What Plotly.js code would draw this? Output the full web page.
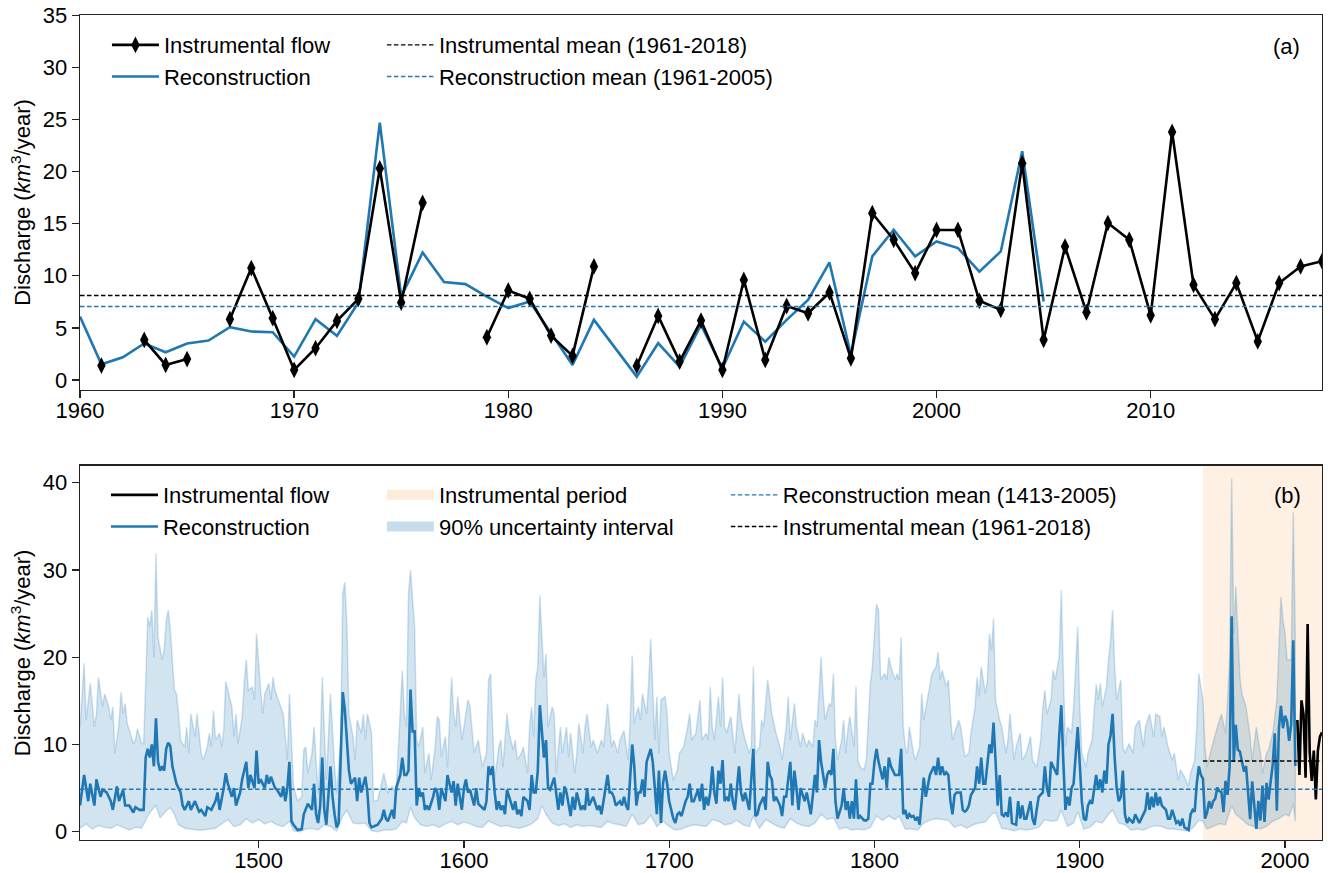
<!DOCTYPE html>
<html>
<head>
<meta charset="utf-8">
<script src="https://cdn.plot.ly/plotly-3.0.1.min.js"></script>
<style>html,body{margin:0;padding:0;background:#fff;}#chart{width:1328px;height:873px;}</style>
</head>
<body>
<div id="chart"></div>
<script>
// ---------- Panel (a): annual data 1960-2018 ----------
const topYears = [1960,1961,1962,1963,1964,1965,1966,1967,1968,1969,1970,1971,1972,1973,1974,1975,1976,1977,1978,1979,
  1980,1981,1982,1983,1984,1985,1986,1987,1988,1989,1990,1991,1992,1993,1994,1995,1996,1997,1998,1999,
  2000,2001,2002,2003,2004,2005,2006,2007,2008,2009,2010,2011,2012,2013,2014,2015,2016,2017,2018];
const instrumentalFlow = [null,1.38,null,3.85,1.44,2.0,null,5.83,10.74,5.93,0.96,3.05,5.67,7.79,20.3,7.43,17.0,null,null,4.1,
  8.59,7.79,4.26,2.31,10.9,null,1.35,6.15,1.76,5.7,0.96,9.6,1.92,7.1,6.4,8.4,2.08,16.0,13.46,10.26,
  14.4,14.4,7.6,6.73,20.8,3.85,12.8,6.5,15.06,13.46,6.2,23.8,9.13,5.83,9.3,3.7,9.3,10.9,11.4];
const reconYearsRecent = [1960,1961,1962,1963,1964,1965,1966,1967,1968,1969,1970,1971,1972,1973,1974,1975,1976,1977,1978,1979,
  1980,1981,1982,1983,1984,1985,1986,1987,1988,1989,1990,1991,1992,1993,1994,1995,1996,1997,1998,1999,
  2000,2001,2002,2003,2004,2005];
const reconRecent = [6.09,1.5,2.18,3.5,2.66,3.5,3.78,5.06,4.65,4.58,2.24,5.83,4.23,7.43,24.7,8.0,12.24,9.39,9.2,8.0,
  6.9,7.53,4.49,1.44,5.77,3.05,0.32,3.53,1.28,5.29,1.12,5.6,3.68,5.77,7.69,11.28,2.4,11.86,14.42,11.86,
  13.3,12.66,10.4,12.34,21.95,7.53];
const instMean = 8.1;          // 1961-2018
const reconMeanShort = 7.05;   // 1961-2005
const reconMeanLong = 4.86;    // 1413-2005
const instPeriod = [1960, 2018];
const bottomInstStart = 2006;

// ---------- Panel (b): reconstruction 1413-1959 [year, value] ----------
const reconEarly = [[1413,3.0],[1415,6.5],[1416,5.0],[1417,3.5],[1418,5.5],[1420,3.0],[1421,6.0],[1423,4.0],[1424,4.8],[1426,4.5],
[1428,3.5],[1429,2.5],[1431,5.2],[1432,3.5],[1434,4.8],[1435,3.0],[1437,3.0],[1439,2.2],[1440,2.8],[1442,2.5],[1444,2.5],[1445,8.5],
[1446,9.5],[1447,8.5],[1448,10.0],[1449,7.5],[1450,13.0],[1451,8.0],[1452,7.0],[1453,7.5],[1454,7.0],[1455,9.5],[1456,10.2],[1457,9.8],
[1458,7.5],[1459,6.5],[1460,5.5],[1462,4.5],[1463,3.0],[1464,2.5],[1466,3.5],[1467,2.5],[1469,3.5],[1471,2.3],[1472,2.5],[1474,1.8],
[1475,2.8],[1477,2.5],[1479,3.5],[1480,4.5],[1481,2.5],[1483,5.0],[1484,6.7],[1485,5.5],[1487,4.0],[1488,5.0],[1489,3.0],[1491,4.5],
[1492,6.0],[1494,8.0],[1495,5.0],[1496,6.5],[1498,5.0],[1499,9.3],[1500,5.5],[1501,6.0],[1503,5.0],[1504,6.5],[1505,5.5],[1506,6.3],
[1508,5.0],[1509,4.8],[1511,4.0],[1512,5.2],[1513,3.5],[1514,5.0],[1515,8.0],[1516,1.2],[1517,0.8],[1519,0.2],[1521,0.3],[1522,2.0],
[1524,3.2],[1526,2.5],[1527,5.5],[1528,2.0],[1529,1.0],[1530,3.0],[1531,8.5],[1532,2.5],[1533,0.8],[1535,7.5],[1536,4.0],[1537,2.0],
[1538,0.5],[1539,1.0],[1540,8.0],[1541,16.0],[1542,14.0],[1543,10.0],[1544,7.0],[1545,5.5],[1547,6.2],[1548,3.5],[1549,6.2],[1550,4.5],
[1551,5.5],[1552,6.3],[1553,4.5],[1554,1.0],[1555,0.5],[1557,0.7],[1558,0.8],[1560,1.5],[1561,2.5],[1562,1.5],[1563,1.2],[1565,2.5],
[1566,1.5],[1567,5.0],[1569,6.5],[1570,8.5],[1571,6.5],[1572,6.5],[1573,7.0],[1574,16.3],[1575,11.5],[1576,11.5],[1577,3.0],[1578,5.0],
[1579,4.0],[1580,4.5],[1581,2.5],[1582,3.0],[1583,2.5],[1585,4.0],[1586,5.0],[1587,4.5],[1588,2.5],[1589,5.0],[1591,3.5],[1592,6.5],
[1594,4.5],[1595,5.8],[1596,3.0],[1597,5.5],[1599,2.5],[1600,5.0],[1601,6.0],[1602,4.5],[1603,4.8],[1605,3.0],[1606,5.0],[1607,3.2],
[1608,3.0],[1610,2.5],[1611,3.5],[1612,7.5],[1613,6.5],[1614,7.5],[1615,4.5],[1616,2.5],[1617,3.5],[1618,2.5],[1619,3.0],[1620,2.0],
[1621,4.8],[1622,4.0],[1624,2.5],[1625,3.5],[1626,2.0],[1627,2.5],[1628,1.8],[1629,4.0],[1631,3.5],[1632,2.5],[1633,6.5],[1634,4.5],
[1635,4.5],[1636,7.0],[1637,14.5],[1639,8.5],[1640,10.5],[1641,5.0],[1642,4.8],[1644,6.2],[1645,4.0],[1646,2.5],[1647,4.5],[1648,3.0],
[1649,5.2],[1650,4.5],[1652,1.8],[1653,4.0],[1654,2.5],[1655,4.5],[1657,2.5],[1658,3.0],[1659,2.5],[1660,5.0],[1661,3.0],[1662,3.5],
[1663,4.0],[1665,2.5],[1666,3.0],[1667,2.0],[1668,3.5],[1670,6.5],[1671,4.5],[1672,4.5],[1673,4.0],[1674,3.0],[1676,3.5],[1677,3.0],
[1678,4.0],[1679,3.0],[1680,2.5],[1682,10.0],[1683,7.5],[1684,3.0],[1685,4.5],[1686,4.5],[1687,6.0],[1688,4.0],[1689,8.0],[1691,9.5],
[1692,8.0],[1693,5.0],[1694,2.0],[1695,7.0],[1696,1.0],[1697,5.5],[1698,7.0],[1699,5.5],[1700,3.5],[1702,1.5],[1703,1.0],[1704,2.0],
[1705,2.2],[1706,1.8],[1708,3.5],[1709,4.0],[1710,5.5],[1711,3.5],[1712,3.5],[1714,4.8],[1715,3.5],[1716,5.5],[1717,2.5],[1718,4.0],
[1719,3.0],[1720,4.5],[1721,7.5],[1722,4.5],[1723,3.2],[1724,7.0],[1725,5.5],[1726,8.2],[1727,3.5],[1728,4.0],[1729,3.5],[1730,5.5],
[1731,3.5],[1732,2.5],[1734,7.5],[1735,4.5],[1736,3.5],[1737,4.5],[1738,3.5],[1739,2.5],[1741,9.5],[1742,1.8],[1743,2.0],[1744,3.0],
[1746,4.0],[1747,2.5],[1748,8.0],[1749,6.5],[1750,6.0],[1751,3.5],[1752,4.0],[1754,3.0],[1755,1.8],[1756,4.0],[1757,4.0],[1759,8.0],
[1760,3.0],[1761,7.0],[1762,5.0],[1763,2.5],[1764,5.0],[1766,3.5],[1767,4.5],[1768,3.0],[1769,2.0],[1771,6.5],[1772,4.5],[1773,10.5],
[1774,8.0],[1776,5.0],[1777,6.5],[1778,7.0],[1779,6.5],[1780,9.5],[1781,3.5],[1782,1.5],[1784,3.0],[1785,5.0],[1786,2.5],[1787,3.5],
[1788,1.5],[1789,3.5],[1790,1.5],[1791,6.0],[1792,1.5],[1793,1.8],[1795,1.3],[1796,1.3],[1797,1.5],[1798,5.5],[1799,5.5],[1800,8.0],
[1801,9.5],[1802,8.0],[1804,6.0],[1805,7.5],[1806,5.0],[1807,8.5],[1808,7.5],[1809,7.0],[1810,6.5],[1812,6.5],[1813,9.5],[1814,2.0],
[1815,2.5],[1816,1.5],[1817,2.0],[1818,1.7],[1819,1.8],[1820,1.3],[1821,1.7],[1822,0.8],[1824,6.2],[1825,4.0],[1826,5.5],[1827,6.5],
[1828,7.0],[1829,7.5],[1830,6.5],[1831,8.5],[1832,6.5],[1833,7.5],[1834,6.5],[1835,6.8],[1836,6.5],[1837,3.5],[1838,2.0],[1839,4.2],
[1840,4.5],[1842,4.5],[1843,2.5],[1844,2.3],[1845,2.5],[1846,3.0],[1847,4.2],[1849,5.0],[1850,7.5],[1851,5.5],[1852,8.5],[1853,5.5],
[1854,5.5],[1856,10.0],[1857,9.0],[1858,12.5],[1859,8.0],[1860,3.0],[1861,6.5],[1862,2.0],[1863,1.8],[1864,2.2],[1865,1.7],[1866,4.0],
[1867,1.0],[1869,0.8],[1870,3.5],[1871,1.5],[1872,3.0],[1873,1.5],[1874,1.5],[1876,3.5],[1877,1.5],[1878,0.8],[1879,2.5],[1880,4.0],
[1882,4.5],[1883,7.5],[1884,5.0],[1885,4.0],[1886,8.0],[1887,7.5],[1889,6.5],[1890,11.0],[1891,14.5],[1892,8.0],[1893,2.5],[1894,4.0],
[1895,3.0],[1896,5.0],[1897,5.5],[1899,12.0],[1900,7.0],[1901,3.5],[1902,1.5],[1903,1.3],[1904,3.0],[1905,3.5],[1906,3.2],[1908,6.5],
[1909,4.8],[1910,6.0],[1911,4.5],[1912,7.0],[1913,5.5],[1914,10.0],[1915,11.0],[1916,13.5],[1917,8.5],[1918,5.0],[1919,3.5],[1920,4.0],
[1921,7.0],[1922,2.0],[1923,1.0],[1924,1.5],[1926,1.0],[1927,2.0],[1928,1.5],[1929,1.0],[1930,1.5],[1932,2.5],[1933,4.5],[1934,2.5],
[1935,4.0],[1936,2.8],[1937,4.5],[1938,3.0],[1939,4.0],[1940,3.0],[1942,2.5],[1943,1.5],[1944,1.5],[1945,2.5],[1947,1.0],[1948,1.2],
[1949,0.7],[1950,1.5],[1951,0.5],[1953,0.2],[1954,2.0],[1955,2.5],[1956,2.3],[1957,5.5],[1958,7.5],[1959,6.5]];

// 90% uncertainty interval, upper bound [year, value]
const upperBound = [[1413,12.0],[1415,19.3],[1416,12.8],[1418,17.0],[1420,12.0],[1421,13.5],[1422,17.7],[1424,14.3],[1425,15.8],[1427,14.3],
[1428,12.8],[1429,14.3],[1430,9.0],[1432,12.4],[1433,16.0],[1434,13.5],[1435,14.7],[1436,12.4],[1438,10.9],[1439,10.1],[1440,10.5],
[1441,11.8],[1443,10.1],[1444,10.1],[1445,17.0],[1446,24.6],[1447,23.5],[1448,25.4],[1449,20.0],[1450,31.9],[1451,22.3],[1452,20.8],
[1453,19.7],[1454,20.8],[1455,24.2],[1456,25.4],[1457,23.1],[1459,16.2],[1460,15.8],[1461,13.5],[1462,10.5],[1464,9.7],[1465,12.0],
[1466,9.0],[1467,13.5],[1469,10.9],[1470,13.5],[1471,11.3],[1472,9.0],[1473,8.2],[1475,9.7],[1476,11.3],[1477,9.7],[1478,13.9],
[1479,10.5],[1481,11.3],[1482,9.7],[1483,11.6],[1484,17.2],[1485,16.2],[1487,14.3],[1488,10.9],[1489,13.5],[1490,10.1],[1492,13.2],
[1493,17.0],[1494,19.7],[1495,16.2],[1497,16.6],[1498,15.1],[1499,22.7],[1501,16.2],[1502,13.5],[1503,15.8],[1505,17.0],[1506,15.1],
[1507,17.7],[1508,16.2],[1509,15.5],[1511,14.3],[1512,13.5],[1513,10.9],[1514,8.2],[1515,15.8],[1517,5.2],[1519,3.5],[1521,4.0],
[1522,9.4],[1523,9.7],[1524,6.7],[1526,9.0],[1527,12.0],[1529,4.4],[1530,9.0],[1531,17.7],[1533,5.9],[1534,10.5],[1535,15.8],[1537,7.4],
[1538,4.4],[1540,10.5],[1541,27.3],[1542,28.6],[1543,23.9],[1544,13.5],[1546,10.9],[1547,8.2],[1548,12.8],[1550,11.3],[1551,13.5],
[1552,10.5],[1553,13.5],[1555,11.3],[1556,3.5],[1558,3.6],[1561,6.7],[1563,4.4],[1565,5.2],[1567,4.4],[1568,9.7],[1570,18.5],[1571,13.5],
[1572,12.0],[1573,27.3],[1574,30.0],[1576,23.5],[1577,10.5],[1578,9.7],[1580,12.0],[1581,6.7],[1583,9.0],[1584,5.9],[1586,9.7],[1587,13.2],
[1588,12.8],[1589,8.6],[1591,10.9],[1592,7.4],[1594,17.7],[1595,13.5],[1596,12.0],[1597,15.5],[1599,10.5],[1600,12.0],[1602,15.1],
[1603,14.3],[1604,11.3],[1605,9.0],[1607,10.5],[1608,9.0],[1609,7.4],[1611,9.0],[1612,17.4],[1613,18.1],[1614,11.3],[1615,5.9],[1617,9.7],
[1618,10.5],[1619,7.4],[1621,13.5],[1622,11.3],[1624,9.4],[1625,10.5],[1626,8.2],[1628,9.0],[1629,9.7],[1631,6.7],[1632,12.0],[1633,14.3],
[1634,10.9],[1635,17.4],[1636,18.9],[1637,27.1],[1639,17.7],[1640,20.4],[1641,12.0],[1643,14.3],[1644,13.5],[1645,6.7],[1647,12.0],
[1648,9.0],[1650,12.0],[1651,8.6],[1652,11.3],[1654,6.7],[1655,9.0],[1656,12.4],[1658,9.0],[1659,12.0],[1660,13.5],[1662,9.7],[1663,10.5],
[1665,9.0],[1667,10.5],[1668,9.7],[1670,14.7],[1671,12.0],[1672,9.7],[1673,10.5],[1675,9.0],[1676,10.5],[1678,11.6],[1680,8.2],[1681,12.8],
[1682,20.2],[1683,12.4],[1684,13.5],[1685,14.3],[1686,12.8],[1687,15.8],[1689,13.5],[1690,17.0],[1691,22.1],[1692,16.2],[1693,10.5],
[1694,15.5],[1695,9.0],[1696,15.1],[1698,15.5],[1699,13.5],[1700,9.0],[1702,5.9],[1704,7.1],[1705,9.0],[1707,9.7],[1709,12.0],[1710,13.5],
[1711,10.5],[1713,11.3],[1715,15.1],[1716,10.5],[1718,11.3],[1719,10.5],[1720,16.6],[1721,12.0],[1722,10.5],[1724,15.5],[1725,12.0],
[1726,17.7],[1727,12.0],[1728,11.3],[1730,13.2],[1731,10.9],[1732,9.0],[1734,15.8],[1735,12.8],[1736,11.6],[1737,10.5],[1739,9.0],
[1740,9.7],[1741,18.9],[1742,9.0],[1744,9.7],[1745,12.8],[1746,12.0],[1748,17.4],[1749,15.5],[1750,13.5],[1752,11.3],[1754,9.7],[1755,8.2],
[1757,12.0],[1758,15.5],[1759,10.5],[1761,14.7],[1762,12.0],[1764,9.7],[1765,11.3],[1767,9.7],[1768,10.5],[1770,9.7],[1771,12.8],
[1772,12.0],[1774,20.0],[1775,15.5],[1776,12.8],[1778,14.7],[1779,14.3],[1780,18.1],[1781,10.5],[1782,8.2],[1784,10.5],[1785,12.8],
[1786,9.0],[1787,11.6],[1788,13.2],[1790,9.7],[1791,16.6],[1792,8.2],[1793,7.4],[1795,7.1],[1796,8.2],[1798,17.0],[1799,18.9],[1800,22.7],
[1801,26.1],[1802,25.4],[1803,17.4],[1805,18.1],[1806,17.4],[1807,20.0],[1808,18.9],[1810,17.4],[1811,18.1],[1812,17.4],[1813,22.3],
[1814,12.0],[1815,9.7],[1816,9.0],[1817,12.0],[1819,9.0],[1820,8.2],[1822,9.7],[1823,15.8],[1824,12.8],[1826,15.5],[1827,16.6],[1828,18.1],
[1830,18.9],[1831,20.6],[1832,17.4],[1833,18.5],[1835,16.6],[1836,17.4],[1837,13.5],[1838,10.5],[1840,12.0],[1841,12.8],[1842,12.0],
[1844,8.6],[1846,9.0],[1847,11.3],[1849,14.3],[1850,17.7],[1851,15.5],[1852,18.9],[1854,15.8],[1855,17.4],[1856,22.7],[1857,20.8],
[1858,24.4],[1859,15.1],[1861,12.8],[1862,12.0],[1864,9.0],[1865,10.5],[1866,13.5],[1868,8.2],[1869,9.7],[1871,11.3],[1872,8.2],[1874,9.0],
[1876,10.9],[1877,8.2],[1879,7.4],[1881,10.5],[1882,14.3],[1883,16.2],[1884,13.5],[1886,15.1],[1887,18.5],[1888,17.4],[1890,20.0],
[1891,27.7],[1892,18.1],[1893,9.7],[1894,12.0],[1896,11.3],[1897,14.3],[1899,23.5],[1900,14.3],[1901,9.0],[1903,7.4],[1904,9.0],[1906,10.5],
[1908,16.9],[1909,15.1],[1910,17.0],[1911,14.3],[1913,16.6],[1914,19.7],[1915,21.9],[1916,25.4],[1917,18.9],[1918,15.1],[1920,17.4],
[1921,9.7],[1922,9.0],[1924,10.1],[1926,9.0],[1927,12.0],[1929,12.8],[1931,9.7],[1932,12.0],[1934,13.5],[1936,10.9],[1937,13.5],[1939,13.2],
[1940,10.9],[1941,12.0],[1943,9.7],[1945,8.2],[1946,9.0],[1948,5.9],[1949,7.1],[1951,6.3],[1953,5.2],[1954,6.7],[1956,8.2],[1957,12.0],
[1958,18.1],[1959,16.6],[1960,15.1],[1961,9.7],[1962,7.4],[1964,9.4],[1966,11.3],[1967,12.0],[1969,13.5],[1971,11.3],[1972,15.1],
[1973,19.7],[1974,40.5],[1975,22.7],[1976,28.1],[1978,17.7],[1979,15.8],[1981,14.3],[1983,10.9],[1984,8.2],[1986,12.0],[1988,9.0],
[1989,6.7],[1991,9.0],[1992,9.4],[1994,11.3],[1996,15.1],[1997,21.2],[1998,26.9],[1999,24.2],[2000,22.7],[2001,19.7],[2003,19.7],
[2004,36.6],[2005,22.3]];

// 90% uncertainty interval, lower bound [year, value]
const lowerBound = [[1413,0.4],[1416,0.9],[1419,0.3],[1422,0.7],[1425,0.5],[1428,0.4],[1431,0.8],[1434,0.5],[1437,0.2],[1440,0.5],[1443,0.4],
[1446,1.8],[1448,2.5],[1450,3.0],[1452,1.6],[1455,2.4],[1457,2.8],[1459,2.0],[1461,0.8],[1464,0.4],[1467,0.3],[1470,0.2],[1473,0.2],
[1476,0.3],[1479,0.4],[1482,0.9],[1485,1.4],[1488,0.6],[1491,0.8],[1494,1.5],[1497,1.0],[1500,1.4],[1503,0.9],[1506,1.2],[1509,0.8],
[1512,0.6],[1515,1.2],[1517,0.1],[1520,0.0],[1523,0.3],[1526,0.4],[1529,0.2],[1532,0.8],[1535,0.6],[1538,0.1],[1541,1.8],[1543,2.5],
[1546,1.0],[1549,0.9],[1552,1.0],[1555,0.1],[1558,0.0],[1561,0.2],[1564,0.2],[1567,0.3],[1570,1.2],[1572,1.0],[1574,2.8],[1576,1.6],
[1579,0.8],[1582,0.6],[1585,0.8],[1588,0.5],[1591,0.9],[1594,1.2],[1597,0.8],[1600,1.1],[1603,0.9],[1606,0.6],[1609,0.5],[1612,1.2],
[1615,0.9],[1618,0.6],[1621,0.7],[1624,0.5],[1627,0.4],[1630,0.6],[1633,0.9],[1636,1.5],[1638,3.0],[1640,2.0],[1643,1.0],[1646,0.7],
[1649,0.9],[1652,0.5],[1655,0.8],[1658,0.6],[1661,0.7],[1664,0.6],[1667,0.5],[1670,1.2],[1673,0.9],[1676,0.8],[1679,0.6],[1682,2.0],
[1685,0.8],[1688,1.0],[1691,1.9],[1694,0.6],[1697,1.2],[1700,0.6],[1703,0.2],[1706,0.3],[1709,0.6],[1712,0.8],[1715,0.7],[1718,0.6],
[1721,1.4],[1724,1.2],[1727,0.8],[1730,0.9],[1733,1.3],[1736,0.8],[1739,0.6],[1741,1.8],[1744,0.4],[1747,1.4],[1750,1.0],[1753,0.6],
[1756,0.4],[1759,1.5],[1762,1.0],[1765,0.7],[1768,0.6],[1771,1.0],[1774,2.0],[1777,1.4],[1780,1.6],[1783,0.3],[1786,0.5],[1789,0.2],
[1792,0.3],[1795,0.2],[1798,0.5],[1801,1.8],[1804,1.3],[1807,1.8],[1810,1.4],[1812,1.8],[1815,0.3],[1818,0.3],[1821,0.2],[1824,1.0],
[1827,1.3],[1830,1.5],[1833,1.4],[1836,1.3],[1839,0.5],[1842,0.8],[1845,0.4],[1848,0.8],[1851,1.0],[1854,1.1],[1857,2.0],[1859,2.2],
[1862,0.4],[1865,0.3],[1868,0.1],[1871,0.3],[1874,0.2],[1877,0.3],[1880,0.5],[1883,1.4],[1886,1.2],[1889,1.3],[1891,2.5],[1894,0.6],
[1897,1.0],[1899,2.3],[1902,0.3],[1905,0.5],[1908,1.2],[1911,1.0],[1914,2.0],[1916,2.5],[1919,1.0],[1922,0.8],[1925,0.2],[1928,0.3],
[1931,0.2],[1934,0.5],[1937,0.7],[1940,0.6],[1943,0.3],[1946,0.3],[1949,0.2],[1952,0.1],[1955,0.4],[1958,1.3],[1960,1.2],[1962,0.3],
[1965,0.6],[1968,0.9],[1971,0.8],[1974,3.0],[1976,2.0],[1979,1.4],[1982,0.8],[1985,0.6],[1988,0.3],[1991,0.6],[1994,1.2],[1997,1.5],
[2000,2.0],[2002,1.8],[2004,3.2],[2005,1.2]];

// ---------- axis ranges ----------
const xRangeTop = [1960, 2018];
const yRangeTop = [-0.96, 35.03];
const xRangeBot = [1413, 2018];
const yRangeBot = [-0.95, 41.95];

// ---------- derived series ----------
const reconYearsAll = reconEarly.map(p => p[0]).concat(reconYearsRecent);
const reconValsAll = reconEarly.map(p => p[1]).concat(reconRecent);
const bandX = upperBound.map(p => p[0]).concat(lowerBound.slice().reverse().map(p => p[0]));
const bandY = upperBound.map(p => p[1]).concat(lowerBound.slice().reverse().map(p => p[1]));
const botInstYears = [], botInstVals = [];
topYears.forEach((y, i) => { if (y >= bottomInstStart) { botInstYears.push(y); botInstVals.push(instrumentalFlow[i]); } });

const BLUE = '#1f77b4';
const ORANGE_FILL = 'rgba(245,160,70,0.15)';
const BAND_FILL = 'rgba(31,119,180,0.2)';
const FONT = 'Arial, "Liberation Sans", sans-serif';
const DASH = '4.5px,2.5px';

const traces = [
  // ---- panel (a) ----
  {x: reconYearsRecent, y: reconRecent, type: 'scatter', mode: 'lines', name: 'Reconstruction',
   line: {color: BLUE, width: 2.6}, xaxis: 'x', yaxis: 'y', legend: 'legend', legendrank: 2},
  {x: topYears, y: instrumentalFlow, type: 'scatter', mode: 'lines+markers', name: 'Instrumental flow',
   line: {color: '#000', width: 2.6}, marker: {symbol: 'diamond-tall', size: 12, color: '#000'},
   connectgaps: false, xaxis: 'x', yaxis: 'y', legend: 'legend', legendrank: 1},
  {x: xRangeTop, y: [instMean, instMean], type: 'scatter', mode: 'lines', name: 'Instrumental mean (1961-2018)',
   line: {color: '#000', width: 1.4, dash: DASH}, xaxis: 'x', yaxis: 'y', legend: 'legend2', legendrank: 1},
  {x: xRangeTop, y: [reconMeanShort, reconMeanShort], type: 'scatter', mode: 'lines', name: 'Reconstruction mean (1961-2005)',
   line: {color: BLUE, width: 1.4, dash: DASH}, xaxis: 'x', yaxis: 'y', legend: 'legend2', legendrank: 2},
  // ---- panel (b) ----
  {x: bandX, y: bandY, type: 'scatter', mode: 'lines', fill: 'toself', fillcolor: BAND_FILL,
   line: {color: 'rgba(31,119,180,0.22)', width: 1.5}, showlegend: false, hoverinfo: 'skip',
   xaxis: 'x2', yaxis: 'y2'},
  {x: reconYearsAll, y: reconValsAll, type: 'scatter', mode: 'lines', name: 'Reconstruction',
   line: {color: BLUE, width: 2.6}, xaxis: 'x2', yaxis: 'y2', legend: 'legend3', legendrank: 2},
  {x: botInstYears, y: botInstVals, type: 'scatter', mode: 'lines', name: 'Instrumental flow',
   line: {color: '#000', width: 2.6}, xaxis: 'x2', yaxis: 'y2', legend: 'legend3', legendrank: 1},
  {x: xRangeBot, y: [reconMeanLong, reconMeanLong], type: 'scatter', mode: 'lines', name: 'Reconstruction mean (1413-2005)',
   line: {color: BLUE, width: 1.4, dash: DASH}, xaxis: 'x2', yaxis: 'y2', legend: 'legend5', legendrank: 1},
  {x: [instPeriod[0], xRangeBot[1]], y: [instMean, instMean], type: 'scatter', mode: 'lines', name: 'Instrumental mean (1961-2018)',
   line: {color: '#000', width: 1.4, dash: DASH}, xaxis: 'x2', yaxis: 'y2', legend: 'legend5', legendrank: 2},
  // legend swatches for the shaded areas (no data of their own)
  {x: [null], y: [null], type: 'scatter', mode: 'lines', name: 'Instrumental period',
   line: {color: 'rgba(245,160,70,0.2)', width: 10}, xaxis: 'x2', yaxis: 'y2', legend: 'legend4', legendrank: 1},
  {x: [null], y: [null], type: 'scatter', mode: 'lines', name: '90% uncertainty interval',
   line: {color: 'rgba(31,119,180,0.25)', width: 10}, xaxis: 'x2', yaxis: 'y2', legend: 'legend4', legendrank: 2}
];

const axisCommon = {
  showline: true, linecolor: '#222', linewidth: 1.3, mirror: true,
  ticks: 'outside', ticklen: 7, tickwidth: 1.3, tickcolor: '#222',
  showgrid: false, zeroline: false, tickfont: {family: FONT, size: 22, color: '#000'}
};
const legCommon = {bgcolor: 'rgba(0,0,0,0)', borderwidth: 0, font: {family: FONT, size: 22, color: '#000'},
  xanchor: 'left', yanchor: 'top', orientation: 'v', itemwidth: 47, traceorder: 'normal'};
const yTitle = {text: 'Discharge (<i>km</i><sup>3</sup>/year)', font: {family: FONT, size: 22, color: '#000'}, standoff: 6};

const layout = {
  width: 1328, height: 873,
  margin: {l: 80, r: 6, t: 15, b: 33},
  paper_bgcolor: '#fff', plot_bgcolor: 'rgba(0,0,0,0)',
  font: {family: FONT, size: 22, color: '#000'},
  showlegend: true,
  xaxis: Object.assign({}, axisCommon, {domain: [0, 1], range: xRangeTop, anchor: 'y', ticklabelstandoff: -7,
    tickvals: [1960, 1970, 1980, 1990, 2000, 2010]}),
  yaxis: Object.assign({}, axisCommon, {domain: [0.5455, 1], range: yRangeTop, anchor: 'x',
    tickvals: [0, 5, 10, 15, 20, 25, 30, 35], title: yTitle}),
  xaxis2: Object.assign({}, axisCommon, {domain: [0, 1], range: xRangeBot, anchor: 'y2', ticklabelstandoff: -7,
    tickvals: [1500, 1600, 1700, 1800, 1900, 2000]}),
  yaxis2: Object.assign({}, axisCommon, {domain: [0, 0.4537], range: yRangeBot, anchor: 'x2',
    tickvals: [0, 10, 20, 30, 40], title: yTitle}),
  legend: Object.assign({}, legCommon, {x: 0.0217, y: 0.989}),
  legend2: Object.assign({}, legCommon, {x: 0.2431, y: 0.989}),
  legend3: Object.assign({}, legCommon, {x: 0.0209, y: 0.4436}),
  legend4: Object.assign({}, legCommon, {x: 0.2431, y: 0.4436}),
  legend5: Object.assign({}, legCommon, {x: 0.52, y: 0.4436}),
  shapes: [
    {type: 'rect', xref: 'x2', yref: 'y2 domain', x0: instPeriod[0], x1: instPeriod[1], y0: 0, y1: 1,
     fillcolor: ORANGE_FILL, line: {width: 0}, layer: 'below'}
  ],
  annotations: [
    {text: '(a)', xref: 'x domain', yref: 'y domain', x: 0.9718, y: 0.9164, xanchor: 'center', yanchor: 'middle',
     showarrow: false, font: {family: FONT, size: 22, color: '#000'}},
    {text: '(b)', xref: 'x2 domain', yref: 'y2 domain', x: 0.9726, y: 0.9217, xanchor: 'center', yanchor: 'middle',
     showarrow: false, font: {family: FONT, size: 22, color: '#000'}}
  ]
};

Plotly.newPlot('chart', traces, layout, {displayModeBar: false, staticPlot: true});
</script>
</body>
</html>
